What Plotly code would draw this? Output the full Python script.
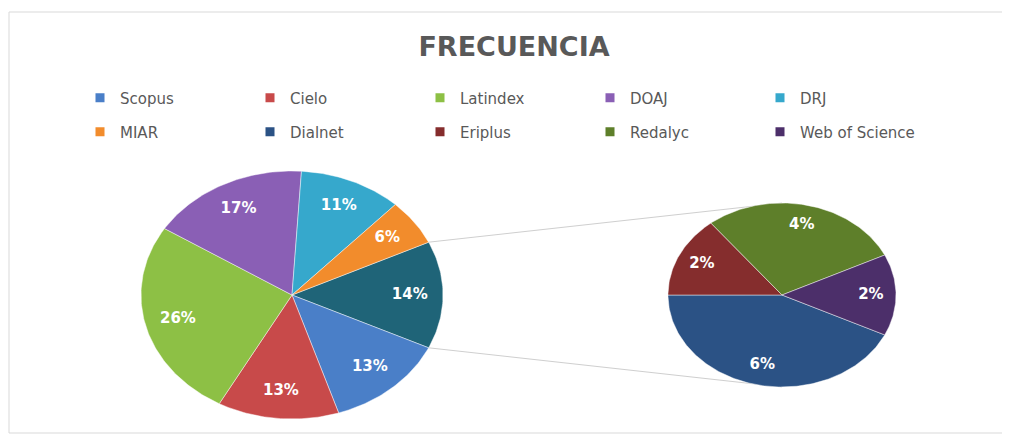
import numpy as np
import plotly.graph_objects as go

# ---------------- data ----------------
title_text = "FRECUENCIA"
main_labels = ["Scopus", "Cielo", "Latindex", "DOAJ", "DRJ", "MIAR"]
main_values = [13, 13, 26, 17, 11, 6]
sec_labels = ["Dialnet", "Eriplus", "Redalyc", "Web of Science"]
sec_values = [6, 2, 4, 2]
other_label = "Otros"

# ---------------- style ----------------
colors = {
    "Scopus": "#4a7fc8",
    "Cielo": "#c84a4a",
    "Latindex": "#8dc045",
    "DOAJ": "#8a5fb5",
    "DRJ": "#36a8cc",
    "MIAR": "#f28c2c",
    "Dialnet": "#2b5285",
    "Eriplus": "#852d2d",
    "Redalyc": "#5e7f2a",
    "Web of Science": "#4c2f6a",
}
other_color = "#1f6478"
FONT = "DejaVu Sans"
W, H = 1010, 437
OFF = 8  # page body margin of the html page
MAIN_C, MAIN_R = (292, 295), (151, 124)
SEC_C, SEC_R = (782, 295), (114, 92)
SEC_START = -25.7
LABEL_R = 0.78


def px(xw):
    return (xw - OFF) / W


def py(yw):
    return 1 - (yw - OFF) / H


def slice_path(c, r, a0, a1):
    n = max(int(abs(a0 - a1)), 2) + 1
    t = np.radians(np.linspace(a0, a1, n))
    x = np.concatenate([[c[0]], c[0] + r[0] * np.cos(t), [c[0]]])
    y = np.concatenate([[c[1]], c[1] - r[1] * np.sin(t), [c[1]]])
    return x, y


def label_pos(c, r, a0, a1):
    m = np.radians((a0 + a1) / 2)
    return c[0] + LABEL_R * r[0] * np.cos(m), c[1] - LABEL_R * r[1] * np.sin(m)


fig = go.Figure()

# legend entries (two rows -> two legends)
all_labels = main_labels + sec_labels
for i, lab in enumerate(all_labels):
    fig.add_trace(go.Scatter(
        x=[None], y=[None], mode="markers", name=lab,
        marker=dict(symbol="square", size=9, color=colors[lab]),
        legend="legend" if i < 5 else "legend2", legendgroup=lab,
        hoverinfo="skip"))

# main pie
other_total = sum(sec_values)
main_total = sum(main_values) + other_total
main_slices = [(other_label, other_total, other_color)] + \
    [(l, v, colors[l]) for l, v in zip(main_labels, main_values)]
ang = 360 * other_total / main_total / 2
top_pt = bottom_pt = None
lx, ly, lt = [], [], []
for lab, v, col in main_slices:
    a0, a1 = ang, ang - 360 * v / main_total
    x, y = slice_path(MAIN_C, MAIN_R, a0, a1)
    fig.add_trace(go.Scatter(
        x=x, y=y, mode="lines", fill="toself", fillcolor=col,
        line=dict(color="rgba(255,255,255,0.45)", width=1),
        showlegend=False, legendgroup=lab, name=lab, hoverinfo="name"))
    tx, ty = label_pos(MAIN_C, MAIN_R, a0, a1)
    lx.append(tx); ly.append(ty); lt.append(f"{round(100 * v / main_total)}%")
    if lab == other_label:
        top_pt = (MAIN_C[0] + MAIN_R[0] * np.cos(np.radians(a0)),
                  MAIN_C[1] - MAIN_R[1] * np.sin(np.radians(a0)))
        bottom_pt = (MAIN_C[0] + MAIN_R[0] * np.cos(np.radians(a1)),
                     MAIN_C[1] - MAIN_R[1] * np.sin(np.radians(a1)))
    ang = a1

# secondary pie
ang = SEC_START
for lab, v in zip(sec_labels, sec_values):
    a0, a1 = ang, ang - 360 * v / other_total
    x, y = slice_path(SEC_C, SEC_R, a0, a1)
    fig.add_trace(go.Scatter(
        x=x, y=y, mode="lines", fill="toself", fillcolor=colors[lab],
        line=dict(color="rgba(255,255,255,0.45)", width=1),
        showlegend=False, legendgroup=lab, name=lab, hoverinfo="name"))
    tx, ty = label_pos(SEC_C, SEC_R, a0, a1)
    lx.append(tx); ly.append(ty); lt.append(f"{round(100 * v / main_total)}%")
    ang = a1

fig.add_trace(go.Scatter(
    x=lx, y=ly, text=lt, mode="text", showlegend=False, hoverinfo="skip",
    textfont=dict(family=FONT, size=15, color="white", weight="bold")))

# leader lines
fig.add_shape(type="line", x0=top_pt[0], y0=top_pt[1], x1=SEC_C[0], y1=SEC_C[1] - SEC_R[1],
              line=dict(color="#cfcfcf", width=1), layer="below")
fig.add_shape(type="line", x0=bottom_pt[0], y0=bottom_pt[1], x1=SEC_C[0], y1=SEC_C[1] + SEC_R[1],
              line=dict(color="#cfcfcf", width=1), layer="below")
# chart border (open on the right, as in the cropped reference)
border = dict(color="#d9d9d9", width=1)
fig.add_shape(type="line", x0=9, y0=12, x1=W + 40, y1=12, line=border, layer="below")
fig.add_shape(type="line", x0=9, y0=12, x1=9, y1=433, line=border, layer="below")
fig.add_shape(type="line", x0=9, y0=433, x1=W + 40, y1=433, line=border, layer="below")

leg_common = dict(orientation="h", xanchor="left", yanchor="middle",
                  font=dict(family=FONT, size=15, color="#595959"),
                  entrywidth=125, entrywidthmode="pixels",
                  bgcolor="rgba(0,0,0,0)", itemclick=False, itemdoubleclick=False)

fig.update_layout(
    width=W, height=H,
    margin=dict(l=0, r=0, t=0, b=0),
    paper_bgcolor="white", plot_bgcolor="white",
    title=dict(text=title_text, x=px(514), xanchor="center", y=py(47), yanchor="middle",
               font=dict(family=FONT, size=27, color="#595959", weight="bold")),
    xaxis=dict(range=[OFF, W + OFF], visible=False, fixedrange=True),
    yaxis=dict(range=[H + OFF, OFF], visible=False, fixedrange=True),
    legend=dict(x=px(80), y=py(98), **leg_common),
    legend2=dict(x=px(80), y=py(132), **leg_common),
    showlegend=True,
)

fig.write_html("out.html")
